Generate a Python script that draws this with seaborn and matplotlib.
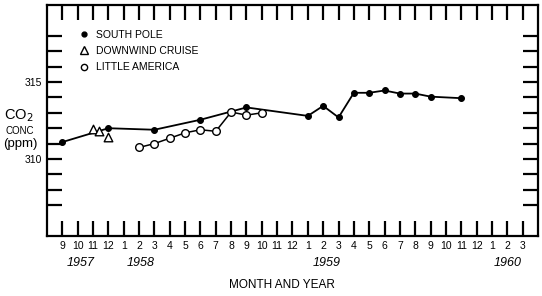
import pandas as pd
import matplotlib
matplotlib.use("Agg")
import matplotlib.pyplot as plt
from matplotlib.lines import Line2D
import seaborn as sns

# Eje x: índice de mes, 0 = septiembre 1957
month_labels = ['9', '10', '11', '12'] + [str(m) for m in range(1, 13)] * 2 + ['1', '2', '3']
year_labels = ['1957', '1958', '1959', '1960']
year_pos = [1.2, 5.1, 17.2, 29.0]

# South Pole (puntos negros)
sp_month = [0, 3, 6, 9, 12, 16, 17, 18, 19, 20, 21, 22, 23, 24, 26]
sp_co2 = [311.1, 312.0, 311.9, 312.55, 313.35, 312.8, 313.45, 312.7,
          314.3, 314.3, 314.45, 314.25, 314.25, 314.05, 313.95]

# Downwind cruise (triángulos)
dc_month = [2, 2.4, 3]
dc_co2 = [311.95, 311.8, 311.45]

# Little America (círculos abiertos)
la_month = [5, 6, 7, 8, 9, 10, 11, 12, 13]
la_co2 = [310.75, 311.0, 311.35, 311.7, 311.9, 311.8, 313.05, 312.85, 313.0]

ytick_vals = list(range(307, 319))

sns.set_style("white")
plt.rcParams['font.family'] = ['Liberation Sans', 'DejaVu Sans']
plt.rcParams['text.color'] = 'black'
plt.rcParams['xtick.color'] = 'black'
plt.rcParams['ytick.color'] = 'black'

df_sp = pd.DataFrame({'mes': sp_month, 'co2': sp_co2})
df_dc = pd.DataFrame({'mes': dc_month, 'co2': dc_co2})
df_la = pd.DataFrame({'mes': la_month, 'co2': la_co2})

fig = plt.figure(figsize=(5.42, 2.96), dpi=100)
ax = fig.add_axes([0.0867, 0.2027, 0.9059, 0.7803])

sns.lineplot(data=df_sp, x='mes', y='co2', ax=ax, color='black', linewidth=1.3,
             marker='o', markersize=4.2, markerfacecolor='black',
             markeredgecolor='black', markeredgewidth=0.8)
sns.lineplot(data=df_la, x='mes', y='co2', ax=ax, color='black', linewidth=1.1,
             marker='o', markersize=5.5, markerfacecolor='white',
             markeredgecolor='black', markeredgewidth=1.0)
sns.scatterplot(data=df_dc, x='mes', y='co2', ax=ax, marker='^', s=38,
                facecolor='white', edgecolor='black', linewidth=1.0, zorder=3)

ax.set_xlim(-1, 31)
ax.set_ylim(305, 320)

ax.set_xticks(range(len(month_labels)))
ax.set_xticklabels(month_labels, fontsize=7.5)
ax.set_yticks(ytick_vals)
ax.set_yticklabels(['310' if v == 310 else '315' if v == 315 else '' for v in ytick_vals],
                   fontsize=7.5)
ax.tick_params(direction='in', length=11, width=1.6, color='black', labelcolor='black',
               bottom=True, left=True, top=True, right=True,
               labeltop=False, labelright=False, pad=3.5)

for s in ax.spines.values():
    s.set_linewidth(1.6)
    s.set_color('black')

ax.set(xlabel=None, ylabel=None)

# Años en cursiva bajo los meses
for pos, lab in zip(year_pos, year_labels):
    ax.text(pos, -0.115, lab, transform=ax.get_xaxis_transform(),
            ha='center', va='center', fontsize=9, style='italic')

ax.text(0.479, -0.212, 'MONTH AND YEAR', transform=ax.transAxes,
        ha='center', va='center', fontsize=8.5)

# Etiqueta del eje y
ax.text(-0.058, 0.521, 'CO$_2$', transform=ax.transAxes, ha='center', va='center', fontsize=10.5)
ax.text(-0.055, 0.455, 'CONC', transform=ax.transAxes, ha='center', va='center', fontsize=7)
ax.text(-0.055, 0.398, '(ppm)', transform=ax.transAxes, ha='center', va='center', fontsize=9.5)

handles = [
    Line2D([], [], linestyle='none', marker='o', markersize=3.5,
           markerfacecolor='black', markeredgecolor='black'),
    Line2D([], [], linestyle='none', marker='^', markersize=5.5,
           markerfacecolor='white', markeredgecolor='black'),
    Line2D([], [], linestyle='none', marker='o', markersize=4.5,
           markerfacecolor='white', markeredgecolor='black'),
]
ax.legend(handles, ['SOUTH POLE', 'DOWNWIND CRUISE', 'LITTLE AMERICA'],
          loc='upper left', bbox_to_anchor=(0.055, 0.915), frameon=False,
          fontsize=7.5, handlelength=1.0, handletextpad=0.6, labelspacing=0.6,
          borderpad=0)

fig.savefig('out.png', dpi=100)
